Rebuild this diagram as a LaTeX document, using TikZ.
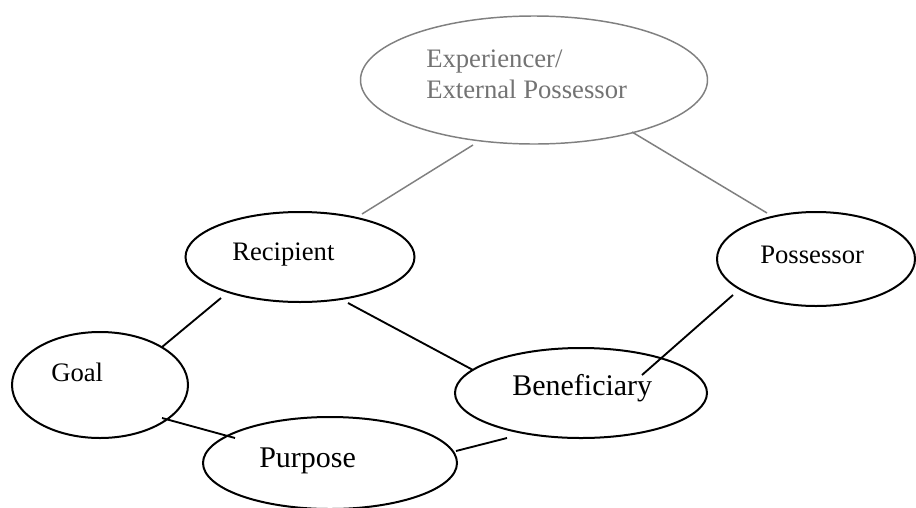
\documentclass[tikz,border=0pt]{standalone}
\usepackage{fontspec}
\setmainfont{Liberation Serif}
\usetikzlibrary{shapes.geometric}
\definecolor{softgray}{RGB}{128,128,128}
\definecolor{txtgray}{RGB}{115,115,115}
\tikzset{
  oval/.style={draw=black, line width=1.5pt, ellipse, inner sep=0pt},
  greyoval/.style={draw=softgray, line width=1.1pt, ellipse, inner sep=0pt},
  lbl/.style={inner sep=0pt, anchor=base west, font=\fontsize{20}{22}\selectfont},
  biglbl/.style={inner sep=0pt, anchor=base west, font=\fontsize{22.5}{25}\selectfont},
  greylbl/.style={inner sep=0pt, anchor=base west, text=txtgray, font=\fontsize{20}{22}\selectfont},
  link/.style={draw=black, line width=1.4pt},
  greylink/.style={draw=softgray, line width=1.1pt},
}
\begin{document}
\begin{tikzpicture}[x=0.75pt,y=-0.75pt]
\path[use as bounding box, fill=white] (0,0) rectangle (916,507);
% ellipses
\node[greyoval, minimum width=260.25pt, minimum height=96pt] (exp) at (534,80) {};
\node[oval, minimum width=171.75pt, minimum height=67.5pt] (rec) at (300,257) {};
\node[oval, minimum width=148.5pt, minimum height=70.5pt] (pos) at (816,259) {};
\node[oval, minimum width=132pt, minimum height=79.5pt] (goal) at (100,385) {};
\node[oval, minimum width=189pt, minimum height=67.5pt] (ben) at (581,393) {};
\node[oval, minimum width=190.5pt, minimum height=69pt] (pur) at (330,463) {};
% labels
\node[greylbl] (expa) at (426,67) {Experiencer/};
\node[greylbl] (expb) at (426,98) {External Possessor};
\node[lbl] (recl) at (232,260) {Recipient};
\node[lbl] (posl) at (760,263) {Possessor};
\node[lbl] (goall) at (51,381) {Goal};
\node[biglbl] (benl) at (512,395) {Beneficiary};
\node[biglbl] (purl) at (259,467) {Purpose};
% connector end points
\coordinate (e1) at (473,145);
\coordinate (e2) at (362,214);
\coordinate (e3) at (632,132);
\coordinate (e4) at (767,213);
\coordinate (r1) at (221,298);
\coordinate (g1) at (162,347);
\coordinate (r2) at (348,303);
\coordinate (b1) at (473,370);
\coordinate (p1) at (733,295);
\coordinate (b2) at (642,375);
\coordinate (g2) at (162,418);
\coordinate (u1) at (235,438);
\coordinate (u2) at (456,451);
\coordinate (b3) at (507,438);
% connectors
\draw[greylink] (e1) -- (e2);
\draw[greylink] (e3) -- (e4);
\draw[link] (r1) -- (g1);
\draw[link] (r2) -- (b1);
\draw[link] (p1) -- (b2);
\draw[link] (g2) -- (u1);
\draw[link] (u2) -- (b3);
\end{tikzpicture}
\end{document}
